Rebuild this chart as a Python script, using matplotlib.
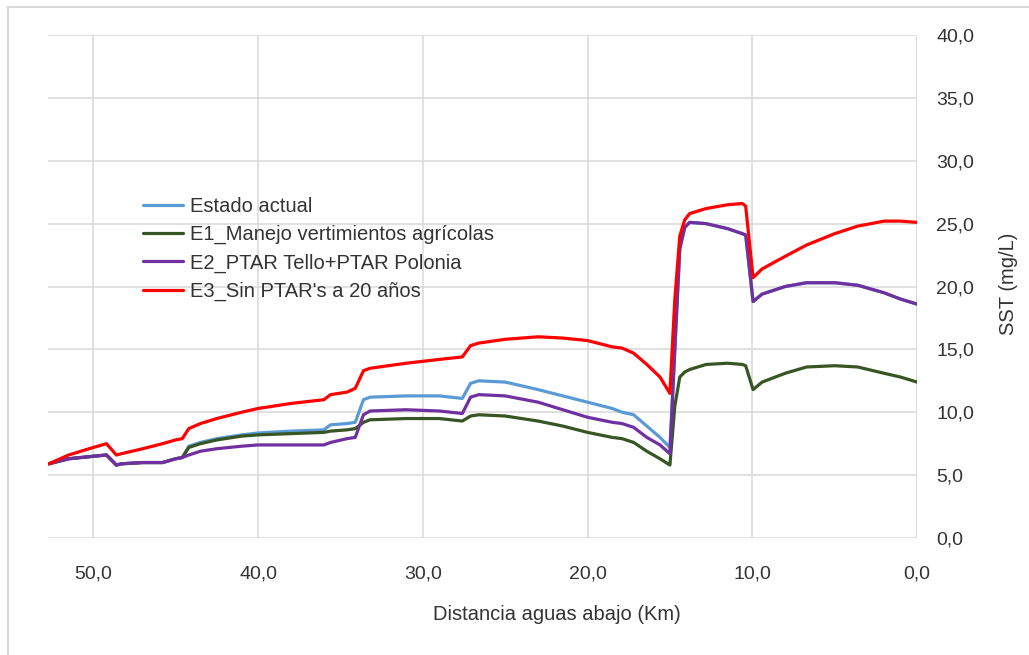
import matplotlib
matplotlib.use("Agg")
import matplotlib.pyplot as plt
from matplotlib.lines import Line2D

plt.rcParams['font.family'] = ['Liberation Sans', 'DejaVu Sans']

# distancia aguas abajo (km) y SST (mg/L) de cada escenario
dist_km = [52.7, 51.5, 50.0, 49.2, 48.6, 48.3, 47.0, 45.8, 45.0, 44.6, 44.2, 43.5, 42.5,
           41.0, 40.0, 38.0, 36.0, 35.6, 34.6, 34.1, 33.6, 33.2, 31.0, 29.0, 27.6, 27.1,
           26.6, 25.0, 23.0, 21.5, 20.0, 18.5, 17.9, 17.2, 16.4, 15.6, 15.0, 14.7, 14.4,
           14.1, 13.8, 12.8, 11.5, 10.6, 10.4, 9.95, 9.4, 8.0, 6.7, 5.0, 3.6, 2.0, 1.0, 0.0]

estado_actual = [5.9, 6.3, 6.5, 6.6, 5.8, 5.9, 6.0, 6.0, 6.3, 6.4, 7.3, 7.6, 7.9,
                 8.2, 8.35, 8.5, 8.6, 9.0, 9.1, 9.2, 11.0, 11.2, 11.3, 11.3, 11.1, 12.3,
                 12.5, 12.4, 11.8, 11.3, 10.8, 10.3, 10.0, 9.8, 8.9, 8.0, 7.2, 15.0, 23.0,
                 24.7, 25.1, 25.0, 24.6, 24.2, 24.1, 18.8, 19.4, 20.0, 20.3, 20.3, 20.1, 19.5, 19.0, 18.6]

e1_agricolas = [5.9, 6.3, 6.5, 6.6, 5.8, 5.9, 6.0, 6.0, 6.3, 6.4, 7.2, 7.5, 7.8,
                8.1, 8.2, 8.3, 8.4, 8.5, 8.6, 8.7, 9.2, 9.4, 9.5, 9.5, 9.3, 9.7,
                9.8, 9.7, 9.3, 8.9, 8.4, 8.0, 7.9, 7.6, 6.9, 6.3, 5.8, 10.5, 12.8,
                13.2, 13.4, 13.8, 13.9, 13.8, 13.7, 11.8, 12.4, 13.1, 13.6, 13.7, 13.6, 13.1, 12.8, 12.4]

e2_ptar = [5.9, 6.3, 6.5, 6.6, 5.8, 5.9, 6.0, 6.0, 6.3, 6.4, 6.6, 6.9, 7.1,
           7.3, 7.4, 7.4, 7.4, 7.6, 7.9, 8.0, 9.8, 10.1, 10.2, 10.1, 9.9, 11.2,
           11.4, 11.3, 10.8, 10.2, 9.6, 9.2, 9.1, 8.8, 8.0, 7.4, 6.7, 15.0, 23.0,
           24.7, 25.1, 25.0, 24.6, 24.2, 24.1, 18.8, 19.4, 20.0, 20.3, 20.3, 20.1, 19.5, 19.0, 18.6]

e3_sin_ptar = [5.9, 6.6, 7.2, 7.5, 6.6, 6.7, 7.1, 7.5, 7.8, 7.9, 8.7, 9.1, 9.5,
               10.0, 10.3, 10.7, 11.0, 11.4, 11.6, 11.9, 13.3, 13.5, 13.9, 14.2, 14.4, 15.3,
               15.5, 15.8, 16.0, 15.9, 15.7, 15.2, 15.1, 14.7, 13.8, 12.8, 11.5, 19.0, 24.0,
               25.3, 25.8, 26.2, 26.5, 26.6, 26.4, 20.7, 21.4, 22.4, 23.3, 24.2, 24.8, 25.2, 25.2, 25.1]

series = [
    ("Estado actual", estado_actual, "#5B9BD5"),
    ("E1_Manejo vertimientos agrícolas", e1_agricolas, "#375623"),
    ("E2_PTAR Tello+PTAR Polonia", e2_ptar, "#7030A0"),
    ("E3_Sin PTAR's a 20 años", e3_sin_ptar, "#FF0000"),
]

x_ticks = [50, 40, 30, 20, 10, 0]
y_ticks = [0, 5, 10, 15, 20, 25, 30, 35, 40]

W, H = 1029, 655
fig = plt.figure(figsize=(W / 100, H / 100), dpi=100)
ax = fig.add_axes([48 / W, 1 - 538 / H, (917 - 48) / W, (538 - 35) / H])

for name, vals, col in series:
    ax.plot(dist_km, vals, color=col, lw=2.3, label=name, solid_capstyle='round')

ax.set_xlim(52.75, 0)
ax.set_ylim(0, 40)
ax.set_xticks(x_ticks)
ax.set_yticks(y_ticks)
ax.set_xticklabels([f"{v:.1f}".replace('.', ',') for v in x_ticks])
ax.set_yticklabels([f"{v:.1f}".replace('.', ',') for v in y_ticks])
ax.yaxis.tick_right()
ax.tick_params(axis='both', length=0, labelsize=14, colors='#333333')
ax.tick_params(axis='x', pad=20)
ax.tick_params(axis='y', pad=14)
ax.grid(True, color='#D9D9D9', lw=1.1)
ax.set_axisbelow(True)
for s in ax.spines.values():
    s.set_visible(False)
ax.axvline(0, color='#D9D9D9', lw=1.1, zorder=0)

fig.text(557 / W, 1 - 615 / H, "Distancia aguas abajo (Km)", ha='center', va='center',
         fontsize=14.5, color='#333333')
fig.text(1009 / W, 1 - 284 / H, "SST (mg/L)", rotation=90, ha='center', va='center',
         fontsize=14.5, color='#333333')

ax.legend(loc='upper left', bbox_to_anchor=(143 / W, 1 - 197 / H), bbox_transform=fig.transFigure,
          frameon=False, fontsize=14.5, handlelength=2.0, handletextpad=0.35,
          labelspacing=0.45, borderpad=0, borderaxespad=0, labelcolor='#333333')

# borde del gráfico
fig.add_artist(Line2D([8 / W, 1], [1 - 7 / H, 1 - 7 / H], transform=fig.transFigure,
                      color='#D9D9D9', lw=1.5))
fig.add_artist(Line2D([8 / W, 8 / W], [0, 1 - 7 / H], transform=fig.transFigure,
                      color='#D9D9D9', lw=1.5))

fig.savefig("out.png", dpi=100)
